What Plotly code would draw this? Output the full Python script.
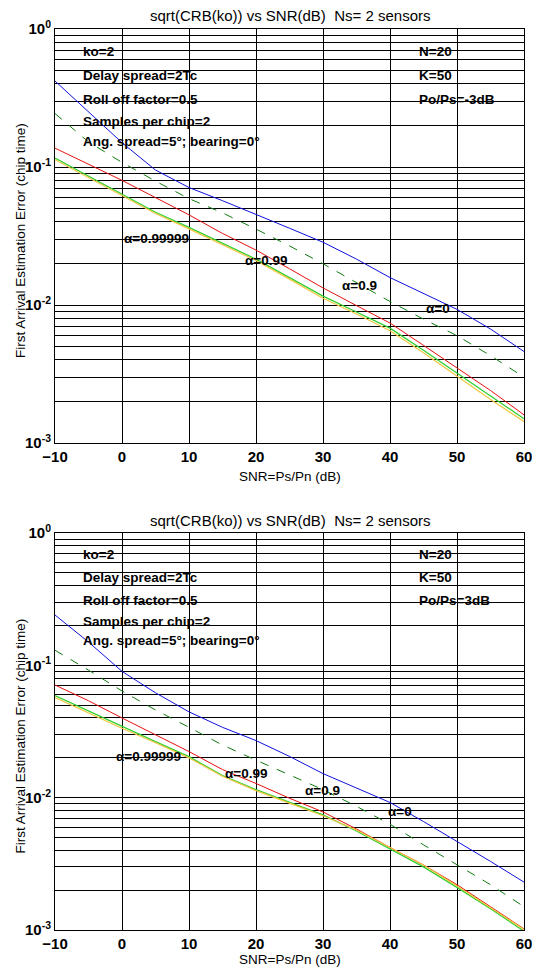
import math
import plotly.graph_objects as go

# The page body has an 8 px margin, so the figure is drawn 8 px in from the top-left corner.
OFF = 8
W, H = 540 - OFF, 972 - OFF

# ---------------- data ----------------
snr = [-10, -5, 0, 5, 10, 15, 20, 25, 30, 35, 40, 45, 50, 55, 60]

# Top panel  (Po/Ps = -3 dB)
top_alpha0 = [0.42, 0.25, 0.15, 0.095, 0.071, 0.057, 0.045, 0.036, 0.0285, 0.0215, 0.0158, 0.0122, 0.0093, 0.0067, 0.0046]
top_alpha09 = [0.244, 0.152, 0.108, 0.079, 0.059, 0.0465, 0.0355, 0.0268, 0.0199, 0.0145, 0.0106, 0.0079, 0.0060, 0.0043, 0.0030]
top_alpha099 = [0.137, 0.105, 0.080, 0.060, 0.045, 0.033, 0.025, 0.0183, 0.0133, 0.0099, 0.0074, 0.0051, 0.0035, 0.0024, 0.0016]
top_alpha099999 = [0.116, 0.086, 0.0636, 0.047, 0.0365, 0.028, 0.0215, 0.0158, 0.0116, 0.0089, 0.0068, 0.0047, 0.0032, 0.0022, 0.00150]
top_alpha1 = [0.113, 0.084, 0.062, 0.046, 0.0356, 0.0273, 0.021, 0.0154, 0.0112, 0.0086, 0.0065, 0.0045, 0.00305, 0.00207, 0.00143]

# Bottom panel (Po/Ps = 3 dB)
bot_alpha0 = [0.24, 0.15, 0.090, 0.062, 0.0445, 0.034, 0.027, 0.0205, 0.0152, 0.0118, 0.0092, 0.0066, 0.0047, 0.0033, 0.0023]
bot_alpha09 = [0.130, 0.092, 0.064, 0.046, 0.034, 0.025, 0.0192, 0.0148, 0.0115, 0.0086, 0.0063, 0.0044, 0.0031, 0.0022, 0.0015]
bot_alpha099 = [0.071, 0.054, 0.040, 0.030, 0.0223, 0.0163, 0.0128, 0.0099, 0.0078, 0.0058, 0.0042, 0.0031, 0.0022, 0.0015, 0.00102]
bot_alpha099999 = [0.059, 0.045, 0.0345, 0.0265, 0.0204, 0.0147, 0.0115, 0.0092, 0.0074, 0.0056, 0.0041, 0.0030, 0.0021, 0.00145, 0.00098]
bot_alpha1 = [0.057, 0.0435, 0.0335, 0.026, 0.020, 0.0145, 0.0113, 0.0091, 0.0073, 0.0057, 0.0042, 0.0031, 0.00215, 0.00148, 0.00101]

x_ticks = [-10, 0, 10, 20, 30, 40, 50, 60]
y_ticks = [0.001, 0.01, 0.1, 1]
y_ticktext = ["10<sup>-3</sup>", "10<sup>-2</sup>", "10<sup>-1</sup>", "10<sup>0</sup>"]
y_minor = [m * d for d in (0.001, 0.01, 0.1) for m in (2, 3, 4, 5, 6, 7, 8, 9)]

title_text = "sqrt(CRB(ko)) vs SNR(dB) \u00a0Ns= 2 sensors"
xlabel = "SNR=Ps/Pn (dB)"
ylabel = "First Arrival Estimation Error (chip time)"
left_notes = ["ko=2", "Delay spread=2Tc", "Roll off factor=0.5", "Samples per chip=2", "Ang. spread=5°; bearing=0°"]
left_note_y = [0.69, 0.46, 0.31, 0.215, 0.153]
right_notes_top = ["N=20", "K=50", "Po/Ps=-3dB"]
right_notes_bot = ["N=20", "K=50", "Po/Ps=3dB"]
alpha_labels = ["α=0.99999", "α=0.99", "α=0.9", "α=0"]
top_label_pos = [(0, 0.0303), (18, 0.021), (32.5, 0.0138), (45, 0.0095)]
bot_label_pos = [(-1.25, 0.0204), (15, 0.0151), (27, 0.0113), (39.4, 0.0078)]

FONT = "Liberation Sans, Arial, Helvetica, sans-serif"

# ---------------- geometry (screen pixels of the target) ----------------
x_left, x_right = 55, 524
top_t, top_b = 29, 443
bot_t, bot_b = 533, 930

def px(p):
    return (p - OFF) / W

def py(p):
    return 1 - (p - OFF) / H

fig = go.Figure()

styles = [
    ("#1010e0", None, 1.0),
    ("#107a10", "dash", 1.0),
    ("#e81010", None, 1.0),
    ("#30d030", None, 1.3),
    ("#f2c640", None, 1.2),
]

top_series = [top_alpha0, top_alpha09, top_alpha099, top_alpha099999, top_alpha1]
bot_series = [bot_alpha0, bot_alpha09, bot_alpha099, bot_alpha099999, bot_alpha1]

for ser, (c, d, w) in zip(top_series, styles):
    fig.add_trace(go.Scatter(x=snr, y=ser, mode="lines", xaxis="x", yaxis="y",
                             line=dict(color=c, width=w, dash=d), showlegend=False))
for ser, (c, d, w) in zip(bot_series, styles):
    fig.add_trace(go.Scatter(x=snr, y=ser, mode="lines", xaxis="x2", yaxis="y2",
                             line=dict(color=c, width=w, dash=d), showlegend=False))

def xaxis(anchor):
    return dict(domain=[px(x_left), px(x_right)], range=[-10, 60], anchor=anchor, automargin=False,
                tickvals=x_ticks, showgrid=True, gridcolor="black", gridwidth=1,
                zeroline=False, showline=True, mirror=True, linecolor="black", linewidth=1,
                ticks="", tickfont=dict(family=FONT, size=15, color="black", weight="bold"))

def yaxis(anchor, top, bottom):
    return dict(domain=[py(bottom), py(top)], type="log", range=[-3, 0], anchor=anchor, automargin=False,
                tickvals=y_ticks, ticktext=y_ticktext, showgrid=True, gridcolor="black", gridwidth=1,
                zeroline=False, showline=True, mirror=True, linecolor="black", linewidth=1,
                ticks="", tickfont=dict(family=FONT, size=15, color="black", weight="bold"),
                minor=dict(tickvals=y_minor, showgrid=True, gridcolor="black", gridwidth=1, ticks=""))

annotations = []
for (top, bottom, xr, yr, rnotes, lpos, xl_off) in [
    (top_t, top_b, "x", "y", right_notes_top, top_label_pos, 33),
    (bot_t, bot_b, "x2", "y2", right_notes_bot, bot_label_pos, 29),
]:
    cx = px((x_left + x_right) / 2)
    annotations.append(dict(text=title_text, xref="paper", yref="paper", x=cx, y=py(top - 13),
                            xanchor="center", yanchor="middle", showarrow=False, borderpad=0,
                            font=dict(family=FONT, size=15, color="black")))
    annotations.append(dict(text=xlabel, xref="paper", yref="paper", x=cx, y=py(bottom + xl_off),
                            xanchor="center", yanchor="middle", showarrow=False,
                            font=dict(family=FONT, size=13.5, color="black")))
    annotations.append(dict(text=ylabel, xref="paper", yref="paper", x=px(20),
                            y=py((top + bottom) / 2 + 5), textangle=-90,
                            xanchor="center", yanchor="middle", showarrow=False,
                            font=dict(family=FONT, size=13.5, color="black")))
    for t, v in zip(left_notes, left_note_y):
        annotations.append(dict(text=t, xref=xr, yref=yr, x=-6.1, y=math.log10(v),
                                xanchor="left", yanchor="middle", showarrow=False,
                                font=dict(family=FONT, size=13.5, color="black", weight="bold")))
    for t, v in zip(rnotes, left_note_y[:3]):
        annotations.append(dict(text=t, xref=xr, yref=yr, x=44, y=math.log10(v),
                                xanchor="left", yanchor="middle", showarrow=False,
                                font=dict(family=FONT, size=13.5, color="black", weight="bold")))
    for t, (lx, lv) in zip(alpha_labels, lpos):
        annotations.append(dict(text=t, xref=xr, yref=yr, x=lx, y=math.log10(lv),
                                xanchor="left", yanchor="middle", showarrow=False,
                                font=dict(family=FONT, size=13.5, color="black", weight="bold")))

fig.update_layout(
    width=W, height=H,
    margin=dict(l=0, r=0, t=0, b=0, autoexpand=False),
    paper_bgcolor="white", plot_bgcolor="white",
    xaxis=xaxis("y"), yaxis=yaxis("x", top_t, top_b),
    xaxis2=xaxis("y2"), yaxis2=yaxis("x2", bot_t, bot_b),
    annotations=annotations,
    showlegend=False,
)

fig.write_html("out.html")
